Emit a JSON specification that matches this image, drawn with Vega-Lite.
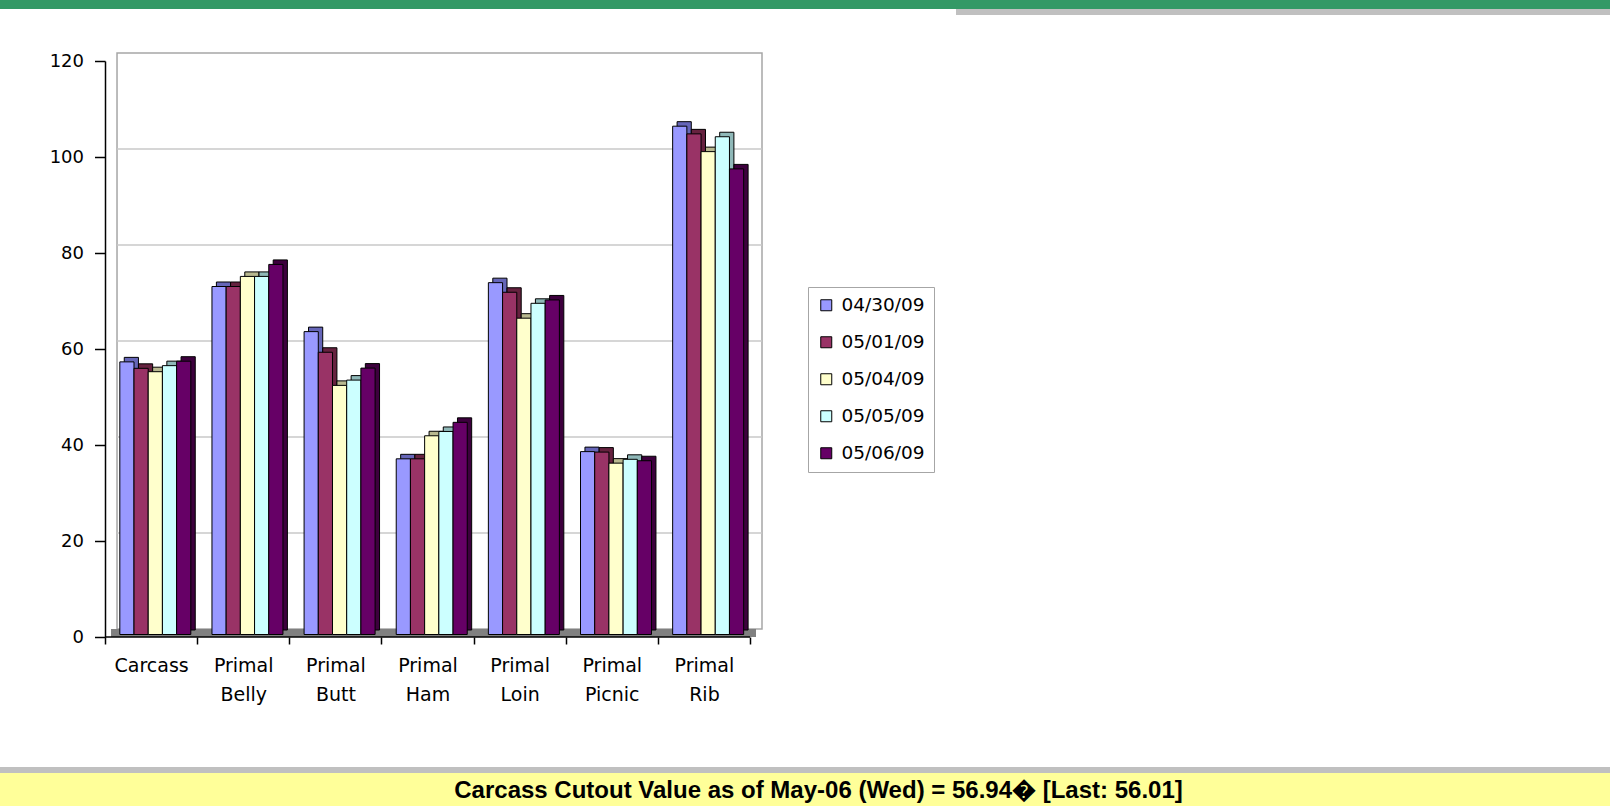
{
  "$schema": "https://vega.github.io/schema/vega-lite/v6.json",
  "padding": 0,
  "spacing": 0,
  "background": "white",
  "datasets": {
    "one": [{"item": "panel"}],
    "grid": [{"v": 20}, {"v": 40}, {"v": 60}, {"v": 80}, {"v": 100}],
    "bars": [
      {"cut": "Carcass", "date": "04/30/09", "value": 56.8},
      {"cut": "Carcass", "date": "05/01/09", "value": 55.45},
      {"cut": "Carcass", "date": "05/04/09", "value": 54.75},
      {"cut": "Carcass", "date": "05/05/09", "value": 56.01},
      {"cut": "Carcass", "date": "05/06/09", "value": 56.94},
      {"cut": "Primal Belly", "date": "04/30/09", "value": 72.5},
      {"cut": "Primal Belly", "date": "05/01/09", "value": 72.5},
      {"cut": "Primal Belly", "date": "05/04/09", "value": 74.6},
      {"cut": "Primal Belly", "date": "05/05/09", "value": 74.6},
      {"cut": "Primal Belly", "date": "05/06/09", "value": 77.1},
      {"cut": "Primal Butt", "date": "04/30/09", "value": 63.1},
      {"cut": "Primal Butt", "date": "05/01/09", "value": 58.8},
      {"cut": "Primal Butt", "date": "05/04/09", "value": 51.9},
      {"cut": "Primal Butt", "date": "05/05/09", "value": 53.0},
      {"cut": "Primal Butt", "date": "05/06/09", "value": 55.5},
      {"cut": "Primal Ham", "date": "04/30/09", "value": 36.6},
      {"cut": "Primal Ham", "date": "05/01/09", "value": 36.6},
      {"cut": "Primal Ham", "date": "05/04/09", "value": 41.4},
      {"cut": "Primal Ham", "date": "05/05/09", "value": 42.3},
      {"cut": "Primal Ham", "date": "05/06/09", "value": 44.2},
      {"cut": "Primal Loin", "date": "04/30/09", "value": 73.3},
      {"cut": "Primal Loin", "date": "05/01/09", "value": 71.3},
      {"cut": "Primal Loin", "date": "05/04/09", "value": 65.9},
      {"cut": "Primal Loin", "date": "05/05/09", "value": 69.0},
      {"cut": "Primal Loin", "date": "05/06/09", "value": 69.7},
      {"cut": "Primal Picnic", "date": "04/30/09", "value": 38.1},
      {"cut": "Primal Picnic", "date": "05/01/09", "value": 38.0},
      {"cut": "Primal Picnic", "date": "05/04/09", "value": 35.7},
      {"cut": "Primal Picnic", "date": "05/05/09", "value": 36.5},
      {"cut": "Primal Picnic", "date": "05/06/09", "value": 36.2},
      {"cut": "Primal Rib", "date": "04/30/09", "value": 105.9},
      {"cut": "Primal Rib", "date": "05/01/09", "value": 104.3},
      {"cut": "Primal Rib", "date": "05/04/09", "value": 100.6},
      {"cut": "Primal Rib", "date": "05/05/09", "value": 103.7},
      {"cut": "Primal Rib", "date": "05/06/09", "value": 97.0}
    ],
    "footer": [{"label": "Carcass Cutout Value as of May-06 (Wed) = 56.94\uFFFD [Last: 56.01]"}]
  },
  "vconcat": [
    {
      "width": 1610, "height": 9,
      "data": {"name": "one"},
      "mark": {"type": "rect", "color": "#339966"},
      "encoding": {}
    },
    {
      "hconcat": [
        {"width": 956, "height": 6, "data": {"name": "one"}, "mark": {"type": "rect", "color": "#ffffff"}, "encoding": {}},
        {"width": 654, "height": 6, "data": {"name": "one"}, "mark": {"type": "rect", "color": "#c0c0c0"}, "encoding": {}}
      ],
      "spacing": 0
    },
    {
      "width": 1610, "height": 37,
      "data": {"name": "one"},
      "mark": {"type": "rect", "fillOpacity": 0, "strokeOpacity": 0},
      "encoding": {}
    },
    {
      "width": 750,
      "height": 576,
      "resolve": {"scale": {"xOffset": "independent", "color": "independent"}},
      "layer": [
        {
          "data": {"name": "one"},
          "mark": {"type": "rect", "fillOpacity": 0, "stroke": "#a6a6a6", "strokeWidth": 1.5, "xOffset": 12, "x2Offset": 12, "yOffset": -8, "y2Offset": -8},
          "encoding": {
            "x": {"datum": "Carcass", "type": "nominal", "bandPosition": 0, "scale": {"paddingInner": 0, "paddingOuter": 0.5699, "align": 1}},
            "x2": {"datum": "Primal Rib", "bandPosition": 1},
            "y": {"datum": 0, "type": "quantitative", "scale": {"domain": [0, 120], "nice": false}},
            "y2": {"datum": 120}
          }
        },
        {
          "data": {"name": "grid"},
          "mark": {"type": "rule", "color": "#c8c8c8", "strokeWidth": 1.5, "xOffset": 12, "x2Offset": 12, "yOffset": -8},
          "encoding": {
            "x": {"datum": "Carcass", "type": "nominal", "bandPosition": 0},
            "x2": {"datum": "Primal Rib", "bandPosition": 1},
            "y": {"field": "v", "type": "quantitative"}
          }
        },
        {
          "data": {"name": "one"},
          "mark": {"type": "rule", "color": "#808080", "strokeWidth": 8, "xOffset": 6, "x2Offset": 6, "yOffset": -4},
          "encoding": {
            "x": {"datum": "Carcass", "type": "nominal", "bandPosition": 0},
            "x2": {"datum": "Primal Rib", "bandPosition": 1},
            "y": {"datum": 0, "type": "quantitative"}
          }
        },
        {
          "data": {"name": "one"},
          "mark": {"type": "rule", "color": "#000000", "strokeWidth": 1.5},
          "encoding": {
            "x": {"datum": "Carcass", "type": "nominal", "bandPosition": 0},
            "x2": {"datum": "Primal Rib", "bandPosition": 1},
            "y": {"datum": 0, "type": "quantitative"}
          }
        },
        {
          "data": {"name": "bars"},
          "mark": {"type": "bar", "stroke": "#000", "strokeWidth": 1, "yOffset": -7, "y2Offset": -7},
          "encoding": {
            "x": {"field": "cut", "type": "nominal"},
            "xOffset": {"field": "date", "type": "nominal", "scale": {"paddingInner": 0, "paddingOuter": 0.744, "align": 0.91}},
            "y": {"field": "value", "type": "quantitative"},
            "color": {"field": "date", "type": "nominal", "scale": {"domain": ["04/30/09", "05/01/09", "05/04/09", "05/05/09", "05/06/09"], "range": ["#6666b8", "#66223f", "#b8b88f", "#8fb8b8", "#3d003d"]}, "legend": null}
          }
        },
        {
          "data": {"name": "bars"},
          "mark": {"type": "bar", "stroke": "#000", "strokeWidth": 1, "yOffset": -2.5, "y2Offset": -2.5},
          "encoding": {
            "x": {
              "field": "cut", "type": "nominal",
              "axis": {
                "title": null, "tickBand": "extent", "labelExpr": "split(datum.label, ' ')", "labelAngle": 0,
                "labelAlign": "center", "domain": false,
                "labelFontSize": 19, "labelFont": "DejaVu Sans", "labelColor": "#000", "labelLineHeight": 29.5,
                "labelPadding": 12, "labelBaseline": "top", "tickSize": 7, "tickColor": "#000", "tickWidth": 1.5,
                "minExtent": 130, "maxExtent": 130,
                "labelOverlap": false, "labelBound": false, "grid": false
              }
            },
            "xOffset": {"field": "date", "type": "nominal", "scale": {"paddingInner": 0, "paddingOuter": 0.744, "align": 0.7}},
            "y": {
              "field": "value", "type": "quantitative",
              "axis": {
                "title": null, "values": [0, 20, 40, 60, 80, 100, 120], "grid": false, "tickSize": 10.5, "offset": -105,
                "labelPadding": 11, "labelFontSize": 18, "labelFont": "DejaVu Sans", "labelColor": "#000",
                "tickColor": "#000", "tickWidth": 1.5, "domainColor": "#000", "domainWidth": 1.5,
                "minExtent": 0, "maxExtent": 200
              }
            },
            "color": {
              "field": "date", "type": "nominal",
              "scale": {"domain": ["04/30/09", "05/01/09", "05/04/09", "05/05/09", "05/06/09"], "range": ["#9999FF", "#993366", "#FFFFCC", "#CCFFFF", "#660066"]},
              "legend": {
                "title": null, "orient": "none", "legendX": 808, "legendY": 226, "direction": "vertical",
                "strokeColor": "#a6a6a6", "fillColor": "#ffffff", "padding": 9, "symbolType": "square",
                "symbolSize": 121, "symbolStrokeColor": "#000", "symbolStrokeWidth": 1, "symbolOpacity": 1,
                "labelFontSize": 18.5, "labelFont": "DejaVu Sans", "labelColor": "#000", "rowPadding": 18, "labelOffset": 6
              }
            }
          }
        }
      ]
    },
    {
      "width": 1610, "height": 6,
      "data": {"name": "one"},
      "mark": {"type": "rect", "color": "#c0c0c0"},
      "encoding": {}
    },
    {
      "width": 1610, "height": 33,
      "layer": [
        {"data": {"name": "one"}, "mark": {"type": "rect", "color": "#FFFF99"}, "encoding": {}},
        {
          "data": {"name": "footer"},
          "mark": {"type": "text", "font": "Liberation Sans", "fontSize": 24, "fontWeight": "bold", "color": "#000", "dx": 13.5, "dy": 1},
          "encoding": {"text": {"field": "label", "type": "nominal"}}
        }
      ]
    }
  ],
  "config": {
    "view": {"stroke": null},
    "concat": {"spacing": 0}
  }
}
